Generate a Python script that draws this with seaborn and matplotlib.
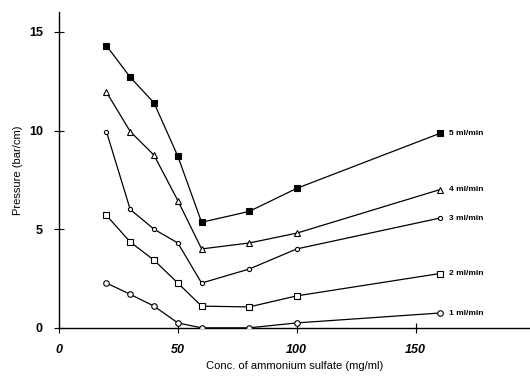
import matplotlib
matplotlib.use("Agg")
import matplotlib.pyplot as plt
import seaborn as sns
import pandas as pd

conc = [20, 30, 40, 50, 60, 80, 100, 160]
flow_labels = ["5 ml/min", "4 ml/min", "3 ml/min", "2 ml/min", "1 ml/min"]
p5 = [14.3, 12.7, 11.4, 8.7, 5.35, 5.9, 7.07, 9.85]
p4 = [11.95, 9.95, 8.75, 6.45, 4.0, 4.3, 4.8, 7.0]
p3 = [9.95, 6.0, 5.0, 4.3, 2.27, 2.98, 4.0, 5.56]
p2 = [5.7, 4.35, 3.43, 2.27, 1.1, 1.06, 1.62, 2.75]
p1 = [2.27, 1.7, 1.1, 0.25, 0.0, 0.0, 0.25, 0.75]
series = [p5, p4, p3, p2, p1]
x_ticks = [0, 50, 100, 150]
y_ticks = [0, 5, 10, 15]

sns.set_theme(style="ticks")
plt.rcParams['font.family'] = ['Liberation Sans', 'DejaVu Sans']
plt.rcParams.update({"text.color": "black", "axes.labelcolor": "black",
                     "xtick.color": "black", "ytick.color": "black"})

fig = plt.figure(figsize=(5.3, 3.79), dpi=100)
ax = fig.add_axes([0.111, 0.135, 0.889, 0.833])

styles = [("s", "black", 4.0), ("^", "white", 4.0), ("o", "white", 3.0),
          ("s", "white", 4.0), ("o", "white", 4.0)]
for vals, lab, (mk, fc, ms) in zip(series, flow_labels, styles):
    df = pd.DataFrame({"conc": conc, "p": vals})
    sns.lineplot(data=df, x="conc", y="p", ax=ax, color="black", lw=0.9,
                 marker=mk, markersize=ms, markerfacecolor=fc,
                 markeredgecolor="black", markeredgewidth=0.8, zorder=3)
    ax.text(conc[-1] + 4, vals[-1], lab, fontsize=6, fontweight="bold",
            va="center", ha="left", color="black")

ax.set_xlim(0, 198)
ax.set_ylim(0, 16)
ax.set_xticks(x_ticks)
ax.set_yticks(y_ticks)
ax.set_xticklabels([str(t) for t in x_ticks], fontsize=9, fontweight="bold", style="italic")
ax.set_yticklabels([str(t) for t in y_ticks], fontsize=9, fontweight="bold")
ax.tick_params(direction="inout", length=7, width=0.8, pad=8, colors="black")
ax.set_xlabel("Conc. of ammonium sulfate (mg/ml)", fontsize=8, color="black")
ax.set_ylabel("Pressure (bar/cm)", fontsize=8, color="black")
for s in ["top", "right"]:
    ax.spines[s].set_visible(False)
for s in ["left", "bottom"]:
    ax.spines[s].set_linewidth(1.0)
    ax.spines[s].set_color("black")

fig.savefig("out.png", dpi=100)
